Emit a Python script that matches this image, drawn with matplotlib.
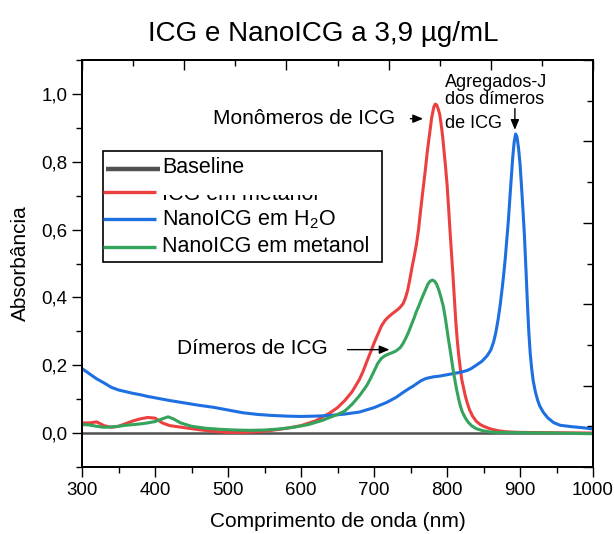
import numpy as np
import matplotlib.pyplot as plt
from matplotlib.patches import Rectangle
from matplotlib.transforms import Bbox, TransformedBbox
from matplotlib.ticker import MultipleLocator, FuncFormatter

plt.rcParams['font.family'] = ['Liberation Sans', 'DejaVu Sans']

# Espectros de absorção (nm, absorbância)
wl_base = [300, 400, 500, 600, 700, 800, 900, 1000]
abs_base = [0.0, 0.0, 0.0, 0.0, 0.0, 0.0, 0.0, 0.0]

wl_icg = [300, 310, 320, 330, 340, 350, 360, 370, 380, 390, 400, 410, 420, 440,
          460, 480, 500, 520, 540, 560, 580, 600, 620, 640, 650, 660, 670, 680,
          685, 690, 695, 700, 705, 710, 715, 720, 725, 730, 735, 740, 743, 746,
          749, 752, 755, 758, 761, 764, 767, 770, 773, 776, 779, 782, 784, 786,
          788, 790, 792, 794, 796, 798, 800, 802, 804, 806, 808, 810, 812, 814,
          816, 818, 820, 822, 825, 828, 831, 835, 840, 845, 850, 860, 870, 880,
          900, 950, 1000]
abs_icg = [0.030, 0.030, 0.033, 0.022, 0.017, 0.020, 0.028, 0.036, 0.042, 0.046,
           0.044, 0.030, 0.022, 0.016, 0.010, 0.005, 0.002, 0.002, 0.004, 0.008,
           0.014, 0.022, 0.036, 0.060, 0.075, 0.096, 0.122, 0.158, 0.182, 0.210,
           0.237, 0.265, 0.290, 0.315, 0.332, 0.343, 0.352, 0.360, 0.369, 0.382,
           0.398, 0.420, 0.452, 0.488, 0.520, 0.555, 0.600, 0.660, 0.716, 0.770,
           0.830, 0.880, 0.930, 0.962, 0.970, 0.967, 0.955, 0.940, 0.910, 0.875,
           0.830, 0.785, 0.735, 0.670, 0.600, 0.535, 0.470, 0.400, 0.330, 0.275,
           0.230, 0.195, 0.160, 0.140, 0.110, 0.087, 0.068, 0.050, 0.035, 0.026,
           0.020, 0.012, 0.007, 0.004, 0.002, 0.001, 0.000]

wl_nano_h2o = [300, 310, 320, 330, 340, 350, 360, 370, 380, 390, 400, 420, 440,
               460, 480, 500, 520, 540, 560, 580, 600, 620, 640, 660, 680, 700,
               717, 730, 740, 747, 754, 760, 765, 770, 775, 782, 790, 800, 810,
               820, 828, 833, 840, 848, 855, 860, 864, 867, 870, 873, 876, 878,
               880, 884, 887, 890, 892, 894, 896, 898, 900, 902, 904, 906, 908,
               910, 912, 914, 916, 918, 921, 924, 927, 932, 938, 946, 955, 970,
               985, 1000]
abs_nano_h2o = [0.190, 0.175, 0.160, 0.148, 0.135, 0.127, 0.122, 0.117, 0.113,
                0.108, 0.104, 0.096, 0.089, 0.082, 0.076, 0.068, 0.060, 0.055,
                0.052, 0.050, 0.049, 0.050, 0.052, 0.056, 0.062, 0.075, 0.090,
                0.105, 0.120, 0.130, 0.139, 0.148, 0.155, 0.160, 0.163, 0.166,
                0.168, 0.172, 0.176, 0.180, 0.185, 0.190, 0.200, 0.212, 0.228,
                0.245, 0.270, 0.298, 0.335, 0.380, 0.435, 0.475, 0.520, 0.625,
                0.720, 0.812, 0.858, 0.882, 0.872, 0.840, 0.795, 0.730, 0.660,
                0.585, 0.490, 0.390, 0.300, 0.235, 0.190, 0.155, 0.122, 0.098,
                0.080, 0.061, 0.045, 0.031, 0.023, 0.019, 0.016, 0.012]

wl_nano_met = [300, 310, 320, 330, 340, 350, 360, 370, 380, 390, 400, 410, 418,
               425, 435, 450, 470, 490, 510, 530, 550, 570, 590, 610, 630, 650,
               660, 670, 680, 690, 695, 700, 705, 710, 715, 720, 725, 730, 736,
               740, 744, 747, 751, 755, 758, 761, 765, 768, 771, 774, 777, 780,
               783, 786, 789, 792, 795, 798, 802, 805, 809, 813, 816, 818, 821,
               825, 829, 834, 840, 849, 860, 870, 900, 950, 1000]
abs_nano_met = [0.025, 0.024, 0.020, 0.017, 0.018, 0.020, 0.023, 0.025, 0.027,
                0.030, 0.034, 0.042, 0.048, 0.042, 0.030, 0.020, 0.014, 0.011,
                0.009, 0.008, 0.009, 0.012, 0.017, 0.025, 0.038, 0.055, 0.065,
                0.085, 0.110, 0.140, 0.160, 0.182, 0.205, 0.220, 0.228, 0.233,
                0.237, 0.242, 0.252, 0.265, 0.282, 0.296, 0.318, 0.340, 0.358,
                0.373, 0.395, 0.410, 0.425, 0.440, 0.448, 0.451, 0.448, 0.438,
                0.420, 0.398, 0.373, 0.335, 0.276, 0.235, 0.178, 0.130, 0.100,
                0.082, 0.062, 0.045, 0.032, 0.021, 0.013, 0.007, 0.003, 0.002,
                0.001, 0.000, -0.002]

labels = ['Baseline', 'ICG em metanol', r'NanoICG em H$_\mathregular{2}$O',
          'NanoICG em metanol']
colors = ['#505050', '#ec4040', '#1e6fe0', '#34a35c']

fig = plt.figure(figsize=(6.14, 5.34), dpi=100)
ax = fig.add_axes([0.1336, 0.1255, 0.8322, 0.7621])

series = [(wl_base, abs_base), (wl_icg, abs_icg),
          (wl_nano_h2o, abs_nano_h2o), (wl_nano_met, abs_nano_met)]
for i, ((x, y), c) in enumerate(zip(series, colors)):
    ax.plot(x, y, color=c, lw=1.8 if i == 0 else 2.2, solid_joinstyle='round')

ax.set_xlim(300, 1000)
ax.set_ylim(-0.1, 1.1)
ax.xaxis.set_major_locator(MultipleLocator(100))
ax.xaxis.set_minor_locator(MultipleLocator(50))
ax.yaxis.set_major_locator(MultipleLocator(0.2))
ax.yaxis.set_minor_locator(MultipleLocator(0.1))
ax.yaxis.set_major_formatter(FuncFormatter(lambda v, p: f'{v:.1f}'.replace('.', ',')))
ax.tick_params(which='both', direction='out', labelsize=13.5, width=1)
ax.tick_params(which='major', length=7)
ax.tick_params(which='minor', length=4)
ax.set_xlabel('Comprimento de onda (nm)', fontsize=15, labelpad=10)
ax.set_ylabel('Absorbância', fontsize=15, labelpad=8)
ax.set_title('ICG e NanoICG a 3,9 µg/mL', fontsize=20, pad=14, x=0.472)

# eixos espelhados (topo e direita), ticks para dentro
ax_top = ax.twiny()
ax_top.set_xlim(300, 1000)
ax_top.set_xticks(np.linspace(300, 1000, 6))
ax_top.set_xticks(np.linspace(300, 1000, 11), minor=True)
ax_top.set_xticklabels([])
ax_right = ax.twinx()
ax_right.set_ylim(-0.1, 1.1)
ax_right.set_yticks(np.linspace(-0.1, 1.1, 6))
ax_right.set_yticks(np.linspace(-0.1, 1.1, 11), minor=True)
ax_right.set_yticklabels([])
for a in (ax_top, ax_right):
    a.tick_params(which='both', direction='in', width=1)
    a.tick_params(which='major', length=7)
    a.tick_params(which='minor', length=4)
for a in (ax, ax_top, ax_right):
    for s in a.spines.values():
        s.set_linewidth(1.2)

# legenda
ax_right.add_patch(Rectangle((0.041, 0.504), 0.546, 0.272, transform=ax.transAxes,
                             fill=False, edgecolor='black', lw=1.2, zorder=5))
line_y = [0.732, 0.676, 0.609, 0.541]
line_x = [(0.047, 0.153), (0.041, 0.145), (0.041, 0.145), (0.041, 0.145)]
text_y = [0.737, 0.670, 0.608, 0.541]
for i, (lab, c) in enumerate(zip(labels, colors)):
    ax_right.plot(line_x[i], [line_y[i]] * 2, color=c, lw=3.2 if i == 0 else 2.4,
                  transform=ax.transAxes, solid_capstyle='butt', zorder=6)
    t = ax_right.text(0.1566, text_y[i], lab, transform=ax.transAxes, fontsize=15.5,
                      va='center', ha='left', zorder=6)
    if i == 1:
        # a parte de cima deste rótulo fica cortada
        t.set_clip_on(True)
        t.set_clip_path(None)
        t.set_clip_box(TransformedBbox(Bbox([[0, 0], [1, 0.668]]), ax.transAxes))

# anotações
arrow = dict(arrowstyle='-|>,head_length=0.6,head_width=0.25', color='black', lw=1)
ax.annotate('', xy=(771, 0.927), xytext=(746, 0.927), arrowprops=arrow)
ax.text(729, 0.927, 'Monômeros de ICG', fontsize=15, ha='right', va='center')
ax.annotate('', xy=(725, 0.246), xytext=(660, 0.246), arrowprops=arrow)
ax.text(636, 0.25, 'Dímeros de ICG', fontsize=15, ha='right', va='center')
ax.annotate('', xy=(893, 0.886), xytext=(893, 0.965), arrowprops=arrow)
ax.text(797, 1.035, 'Agregados-J', fontsize=13, ha='left', va='center')
ax.text(797, 0.983, 'dos dímeros', fontsize=13, ha='left', va='center')
ax.text(797, 0.912, 'de ICG', fontsize=13, ha='left', va='center')

fig.savefig('out.png', dpi=100)
